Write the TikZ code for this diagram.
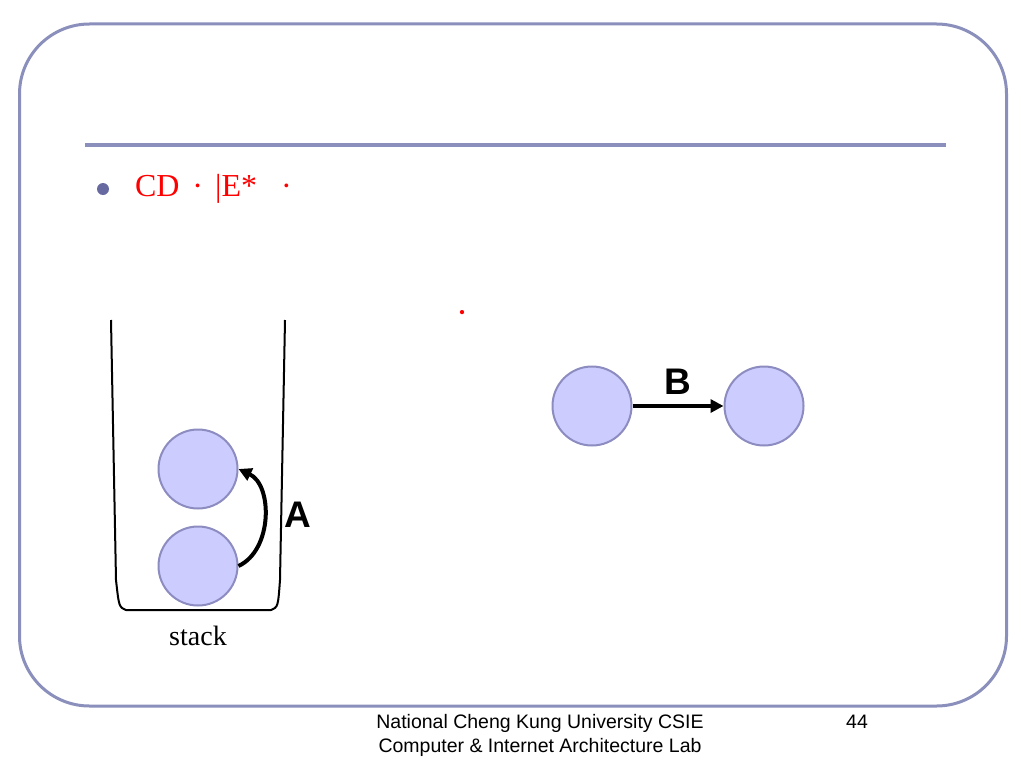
\documentclass[tikz,border=0pt]{standalone}
\usepackage{fontspec}
\setmainfont{Liberation Serif}
\setsansfont{Liberation Sans}
\usetikzlibrary{positioning, arrows.meta}
\definecolor{frame}{RGB}{138,143,187}
\definecolor{ballfill}{RGB}{204,204,255}
\definecolor{balldraw}{RGB}{140,140,192}
\definecolor{bulletc}{RGB}{102,106,160}
\tikzset{
    >={Triangle[length=13pt,width=13pt]}, % Solid arrowheads
    node distance=91pt, % Gap between the two graph nodes
    bubble/.style={circle, draw=balldraw, fill=ballfill, line width=2pt, minimum size=79pt}, % Styling for elements
    move/.style={->, line width=4pt}, % Styling for the moves
    tag/.style={font=\sffamily\bfseries\fontsize{37}{40}\selectfont}, % Move labels
    foot/.style={font=\sffamily\fontsize{19.5}{24}\selectfont}, % Footer text
}

\begin{document}
\begin{tikzpicture}[x=1pt, y=-1pt]
    \useasboundingbox (0,0) rectangle (1024,768);
    % slide frame
    \draw[frame, line width=3pt, rounded corners=70pt] (19.5,24) rectangle (1006.5,706);
    \draw[frame, line width=4pt] (85,145) -- (946,145);

    \node[circle, fill=bulletc, inner sep=0pt, minimum size=12pt] (bullet) at (103,189) {};
    \node[anchor=base west, text=red, font=\fontsize{32}{38}\selectfont] (title) at (131.5,196)
        {CD\hspace{5pt} · \hspace{4pt}|E*\hspace{16pt} ·};
    \node[anchor=base, text=red, font=\fontsize{36}{40}\selectfont] (mark) at (462,324) {·};

    % stack
    \draw[line width=2pt] (111,320) -- (116,580) .. controls (119,607) .. (126,610)
        -- (271,610) .. controls (278,607) .. (280,580) -- (285,320);
    \node[anchor=base, font=\fontsize{28}{32}\selectfont] (stacklbl) at (198,645) {stack};

    \node[bubble] (low) at (198,566) {};
    \node[bubble] (high) [above=16pt of low] {};

    \node[bubble] (src) at (592,406) {};
    \node[bubble] (dst) [right=of src] {};

    \path
        (low.east) edge [move, bend right=65] node[tag, right=15pt, yshift=3pt] {A} (high.east)
        (src) edge [move] node[tag, above=6pt] {B} (dst);

    % footer
    \node[foot, align=center, anchor=base] (lab) at (540,752)
        {National Cheng Kung University CSIE\\Computer \& Internet Architecture Lab};
    \node[foot, anchor=base] (page) at (857,728) {44};
\end{tikzpicture}
\end{document}
